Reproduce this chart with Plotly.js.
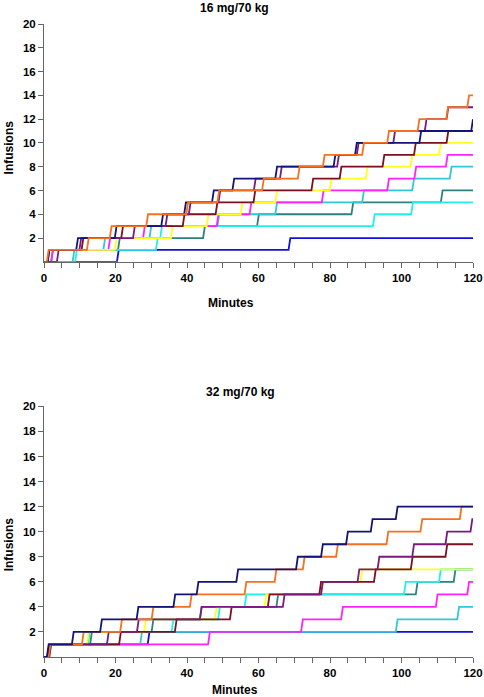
<!DOCTYPE html>
<html>
<head>
<meta charset="utf-8">
<script src="https://cdn.plot.ly/plotly-3.0.1.min.js"></script>
<style>html,body{margin:0;padding:0;background:#fff;}#chart{width:484px;height:697px;}</style>
</head>
<body>
<div id="chart"></div>
<script>
// Infusion times (minutes) for each subject; each time adds one infusion.
const panelTitles = ["16 mg/70 kg", "32 mg/70 kg"];
const xTitle = "Minutes";
const yTitle = "Infusions";
const xTickVals = [0, 20, 40, 60, 80, 100, 120];
const yTickVals = [2, 4, 6, 8, 10, 12, 14, 16, 18, 20];

// Top panel (16 mg/70 kg)
const top_blue    = [20.4, 68.4];
const top_teal    = [2, 20.7, 44.5, 59.6, 86, 111];
const top_cyanA   = [8.7, 31.3, 32.5, 92, 102.7];
const top_cyanB   = [8, 16.6, 29.5, 48.5, 64.7, 89, 103, 113.5];
const top_magenta = [2, 18, 27.7, 48.3, 57.5, 77.7, 96, 103.6, 112.4];
const top_yellow  = [1, 19.8, 35.5, 45.5, 55, 64.7, 79.9, 90, 102.5, 110.5];
const top_maroon  = [1, 10.5, 21.6, 38.8, 48, 58.6, 74.8, 82.7, 94.7, 103.5, 112.6];
const top_purple  = [3.6, 9.9, 24.9, 34, 40.5, 48.8, 58.7, 66, 82, 87.5, 97.7, 106.5, 112.6];
const top_navy    = [1, 9, 19.8, 32.8, 39.2, 47, 52.7, 64.7, 81, 87, 105, 119.5];
const top_orange  = [0.8, 12, 18.4, 28.6, 39.8, 48.5, 61, 71, 78, 89, 96, 104.5, 112.5, 118.4];

// Bottom panel (32 mg/70 kg)
const bot_blue    = [1, 29];
const bot_cyanB   = [1, 26.9, 98.4, 115.6];
const bot_magenta = [1, 45.9, 71.9, 83.1, 109.6, 118.4];
const bot_teal    = [1, 12.9, 30.1, 43.6, 65, 104, 114.6];
const bot_cyanA   = [1, 12.3, 35.7, 48.7, 56.1, 100.7, 110.5];
const bot_yellow  = [1, 12, 28, 47.8, 61.7, 77.5, 88.5];
const bot_maroon  = [1.5, 21, 36.6, 52, 62.6, 77, 92.3, 102.6, 112.3];
const bot_purple  = [1, 17.6, 26, 43.6, 66.8, 77.5, 87.7, 93.3, 103, 112.3, 119.3];
const bot_orange  = [1.3, 10.6, 21.3, 30.1, 40.8, 56.1, 64.5, 72.4, 81.7, 95.8, 105.3, 116.3];
const bot_navy    = [0.8, 7.8, 15.7, 25.9, 36.2, 42.7, 53.8, 70.5, 77.5, 84.5, 91.4, 98.4];

const COLORS = {
  blue: "#1010E0", teal: "#2E8080", cyanA: "#22EEEE", cyanB: "#30C8D8",
  magenta: "#FF22FF", yellow: "#FFFF22", maroon: "#7A1020", purple: "#7A1A80",
  navy: "#141478", orange: "#F5701F"
};
const END = 120;
const RISE = 0.5;

function stepTrace(times, color, xa, ya) {
  const x = [0], y = [0];
  times.forEach((t, i) => {
    x.push(t); y.push(i);
    x.push(t + RISE); y.push(i + 1);
  });
  x.push(END); y.push(times.length);
  return {x, y, type: "scatter", mode: "lines", xaxis: xa, yaxis: ya,
          line: {color, width: 1.8}, hoverinfo: "skip", showlegend: false};
}

const topSeries = [
  [top_blue, "blue"], [top_teal, "teal"], [top_cyanA, "cyanA"], [top_cyanB, "cyanB"],
  [top_magenta, "magenta"], [top_yellow, "yellow"], [top_maroon, "maroon"],
  [top_purple, "purple"], [top_navy, "navy"], [top_orange, "orange"]
];
const botSeries = [
  [bot_blue, "blue"], [bot_cyanB, "cyanB"], [bot_magenta, "magenta"], [bot_teal, "teal"],
  [bot_cyanA, "cyanA"], [bot_yellow, "yellow"], [bot_maroon, "maroon"],
  [bot_purple, "purple"], [bot_orange, "orange"], [bot_navy, "navy"]
];

const traces = [];
topSeries.forEach(([t, c]) => traces.push(stepTrace(t, COLORS[c], "x", "y")));
botSeries.forEach(([t, c]) => traces.push(stepTrace(t, COLORS[c], "x2", "y2")));

const tickFont = {family: "Liberation Sans, Arial, sans-serif", size: 11.5, color: "#000", weight: "bold"};
const axisCommon = {
  showline: true, linecolor: "#666", linewidth: 1, showgrid: false, zeroline: false,
  ticks: "outside", ticklen: 5, tickcolor: "#666", tickwidth: 1, tickfont: tickFont,
  ticklabeloverflow: "allow"
};
const xCommon = Object.assign({}, axisCommon, {
  range: [0, END], tickmode: "array", tickvals: xTickVals,
  minor: {dtick: 5, tick0: 0, ticks: "outside", ticklen: 5, tickcolor: "#666", tickwidth: 1, showgrid: false}
});
const yCommon = Object.assign({}, axisCommon, {
  range: [0, 20], tickmode: "array", tickvals: yTickVals, ticklen: 5
});

const titleFont = {family: "Liberation Sans, Arial, sans-serif", size: 12, color: "#000", weight: "bold"};
function ann(text, x, y, angle) {
  return {text, x, y, xref: "paper", yref: "paper", showarrow: false,
          xanchor: "center", yanchor: "middle", textangle: angle || 0, font: titleFont};
}

const layout = {
  width: 484, height: 697,
  margin: {l: 44, r: 11, t: 24, b: 39.5},
  paper_bgcolor: "#fff", plot_bgcolor: "#fff",
  xaxis: Object.assign({}, xCommon, {domain: [0, 1], anchor: "y"}),
  yaxis: Object.assign({}, yCommon, {domain: [0.6243, 1], anchor: "x"}),
  xaxis2: Object.assign({}, xCommon, {domain: [0, 1], anchor: "y2"}),
  yaxis2: Object.assign({}, yCommon, {domain: [0, 0.3959], anchor: "x2"}),
  annotations: [
    ann(panelTitles[0], 0.445, 1.0253),
    ann(xTitle, 0.436, 0.560),
    ann(yTitle, -0.0816, 0.805, -90),
    ann(panelTitles[1], 0.457, 0.418),
    ann(xTitle, 0.446, -0.0524),
    ann(yTitle, -0.0816, 0.178, -90)
  ],
  showlegend: false
};

Plotly.newPlot("chart", traces, layout, {displayModeBar: false, staticPlot: true});
</script>
</body>
</html>
